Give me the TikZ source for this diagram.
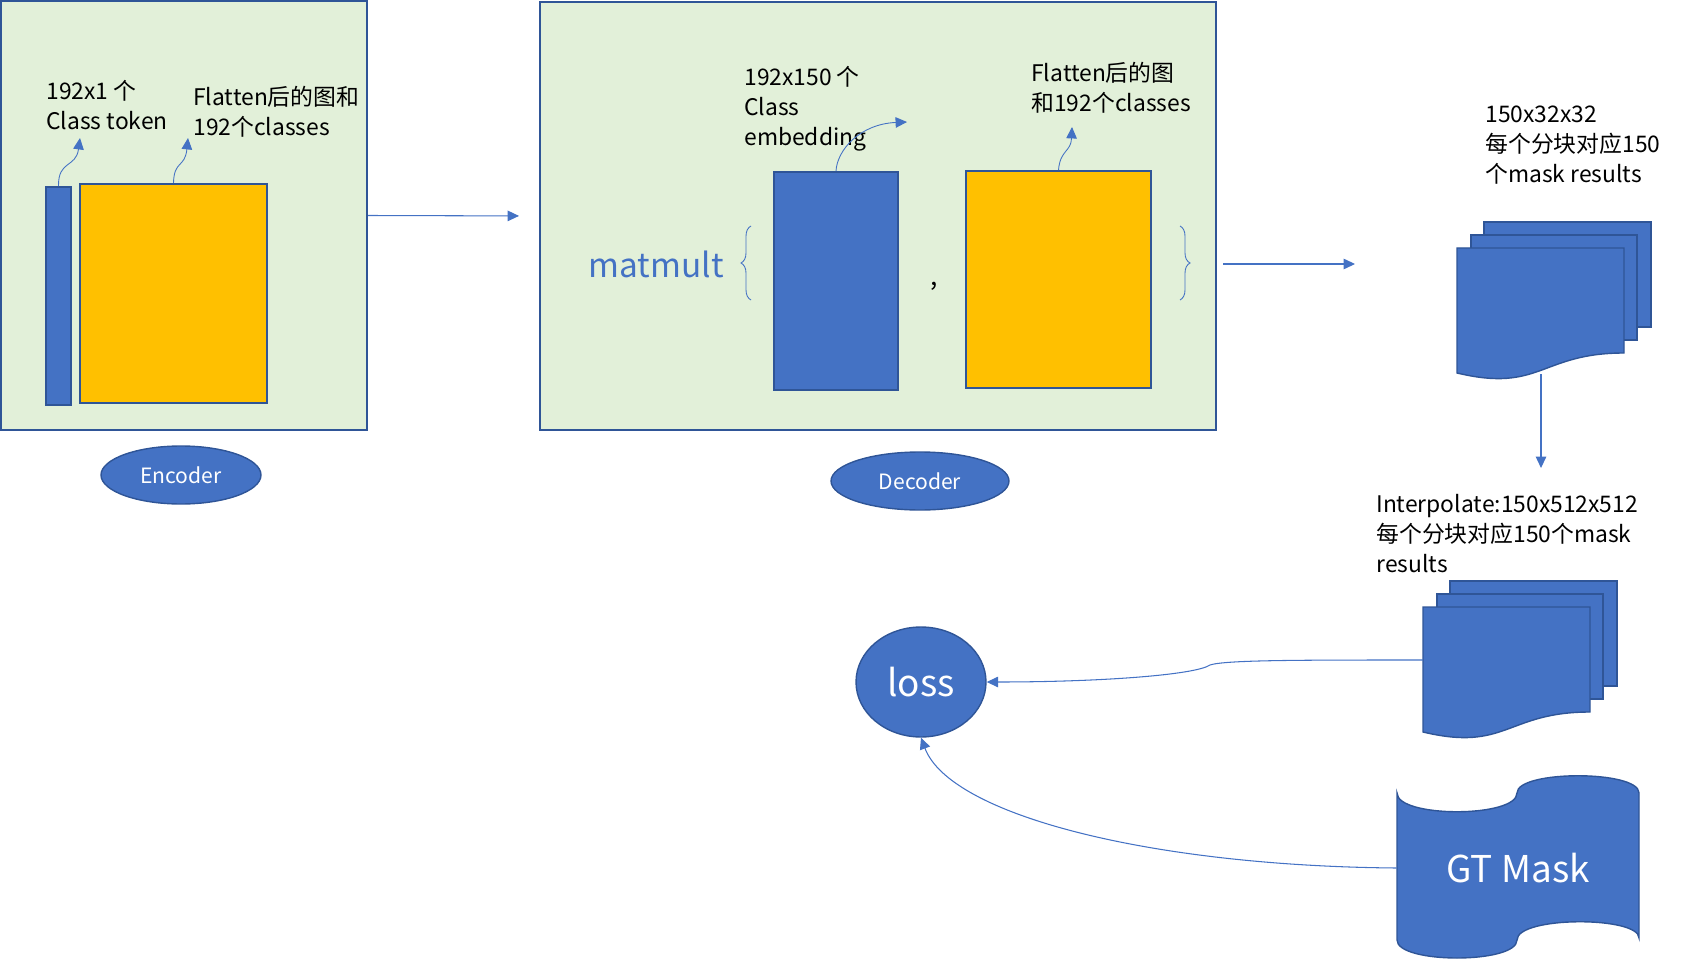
\documentclass[tikz,border=0pt]{standalone}
\usepackage{fontspec}
\setmainfont{Noto Sans CJK SC}
\usepackage{xcolor}
\usepackage{tikz}
\usetikzlibrary{shapes.geometric,arrows.meta,decorations.pathreplacing}
\definecolor{panelgreen}{HTML}{E2F0D9}
\definecolor{edgeblue}{HTML}{2F5597}
\definecolor{fillblue}{HTML}{4472C4}
\definecolor{mapyellow}{HTML}{FFC000}

% three stacked result pages, #1,#2 = top left of the front page, #3 = name
\newcommand{\maskstack}[3]{%
  \draw[page] (#1+27,#2-26) rectangle (#1+194,#2+79);
  \draw[page] (#1+14,#2-13) rectangle (#1+180,#2+92);
  \draw[page] (#1,#2) -- (#1+167,#2) -- (#1+167,#2+105)
    .. controls (#1+83.5,#2+105) and (#1+83.5,#2+145) .. (#1,#2+125) -- cycle;
  \coordinate (#3-w) at (#1,#2+53);
  \coordinate (#3-s) at (#1+84,#2+126);}

\begin{document}
\begin{tikzpicture}[x=0.02cm, y=-0.02cm,
    panel/.style={draw=edgeblue, line width=1.2pt, fill=panelgreen, inner sep=0},
    block/.style={draw=edgeblue, line width=1pt, inner sep=0},
    tag/.style={ellipse, draw=edgeblue, line width=0.8pt, fill=fillblue, text=white, inner sep=0},
    note/.style={anchor=north west, align=left, inner sep=0, font=\fontsize{13}{17}\selectfont},
    arr/.style={draw=fillblue, line width=0.6pt, -{Triangle[length=6.5pt,width=6pt]}},
    page/.style={draw=edgeblue, line width=0.8pt, fill=fillblue},
    curly/.style={draw=fillblue, line width=0.5pt, decorate, decoration={brace, amplitude=0.2cm}}]
  \useasboundingbox (0,0) rectangle (1706,959);

  % encoder
  \node[panel, minimum width=7.32cm, minimum height=8.58cm] (encbox) at (184,215.5) {};
  \node[block, fill=fillblue, minimum width=0.5cm, minimum height=4.36cm] (encbar) at (58.5,296) {};
  \node[block, fill=mapyellow, minimum width=3.74cm, minimum height=4.38cm] (encmap) at (173.5,293.5) {};
  \node[note] (enctok) at (46,80) {192x1 个\\Class token};
  \node[note] (encflat) at (193,86) {Flatten后的图和\\192个classes};
  \coordinate (tokptr) at (80,138);
  \coordinate (flatptr) at (188,138);
  \draw[arr, line width=0.5pt] (encbar.north) .. controls (58,160) and (76,168) .. (tokptr);
  \draw[arr, line width=0.5pt] (encmap.north) .. controls (174,160) and (185,168) .. (flatptr);
  \node[tag, minimum width=3.2cm, minimum height=1.16cm, font=\fontsize{12}{14}\selectfont] (enc) at (181,475) {Encoder};

  % decoder
  \node[panel, minimum width=13.52cm, minimum height=8.56cm] (decbox) at (878,216) {};
  \node[anchor=east, inner sep=0, text=fillblue, font=\fontsize{19}{22}\selectfont] (matmult) at (724,264) {matmult};
  \draw[curly] (751,300) -- (751,226);
  \node[block, fill=fillblue, minimum width=2.48cm, minimum height=4.36cm] (decemb) at (836,281) {};
  \node[inner sep=0, font=\fontsize{15}{18}\selectfont] (comma) at (934,286) {,};
  \node[block, fill=mapyellow, minimum width=3.7cm, minimum height=4.34cm] (decmap) at (1058.5,279.5) {};
  \draw[curly] (1180,226) -- (1180,300);
  \node[note] (embtxt) at (744,66) {192x150 个\\Class\\embedding};
  \node[note] (decflat) at (1031,62) {Flatten后的图\\和192个classes};
  \coordinate (embptr) at (907,122);
  \coordinate (mapptr) at (1072,127);
  \draw[arr, line width=0.5pt] (decemb.north) .. controls (837,150) and (860,124) .. (embptr);
  \draw[arr, line width=0.5pt] (decmap.north) .. controls (1060,150) and (1071,152) .. (mapptr);
  \node[tag, minimum width=3.56cm, minimum height=1.16cm, font=\fontsize{12}{14}\selectfont] (dec) at (920,481) {Decoder};

  \draw[arr, shorten >=0.4cm] (encbox.east) -- (decbox.west);
  \coordinate (decout) at (1223,264);
  \coordinate (maskin) at (1355,264);
  \draw[arr] (decout) -- (maskin);

  % mask results
  \maskstack{1457}{248}{maska}
  \node[note] (maskatxt) at (1485,106) {150x32x32\\每个分块对应150\\个mask results};
  \maskstack{1423}{607}{maskb}
  \node[note] (maskbtxt) at (1376,494) {Interpolate:150x512x512\\每个分块对应150个mask\\results};
  \draw[arr, shorten >=0.52cm] (maska-s) -- (maska-s |- maskbtxt.north);

  % loss
  \node[tag, minimum width=2.6cm, minimum height=2.2cm, font=\fontsize{21}{24}\selectfont] (loss) at (921,682) {loss};
  \draw[page] (1397,793) .. controls (1397,818) and (1517,818) .. (1517,793)
    .. controls (1517,770) and (1639,770) .. (1639,793) -- (1639,938)
    .. controls (1639,916) and (1517,916) .. (1517,940)
    .. controls (1517,964) and (1397,964) .. (1397,940) -- cycle;
  \node[inner sep=0, minimum width=4.84cm, text=white, font=\fontsize{21}{25}\selectfont] (gt) at (1518,868) {GT Mask};
  \draw[arr] (maskb-w) .. controls (1300,660) and (1225,660) .. (1210,665)
    .. controls (1195,675) and (1100,682) .. (loss.east);
  \draw[arr] (gt.west) .. controls (1150,866) and (950,815) .. (loss.south);
\end{tikzpicture}
\end{document}
